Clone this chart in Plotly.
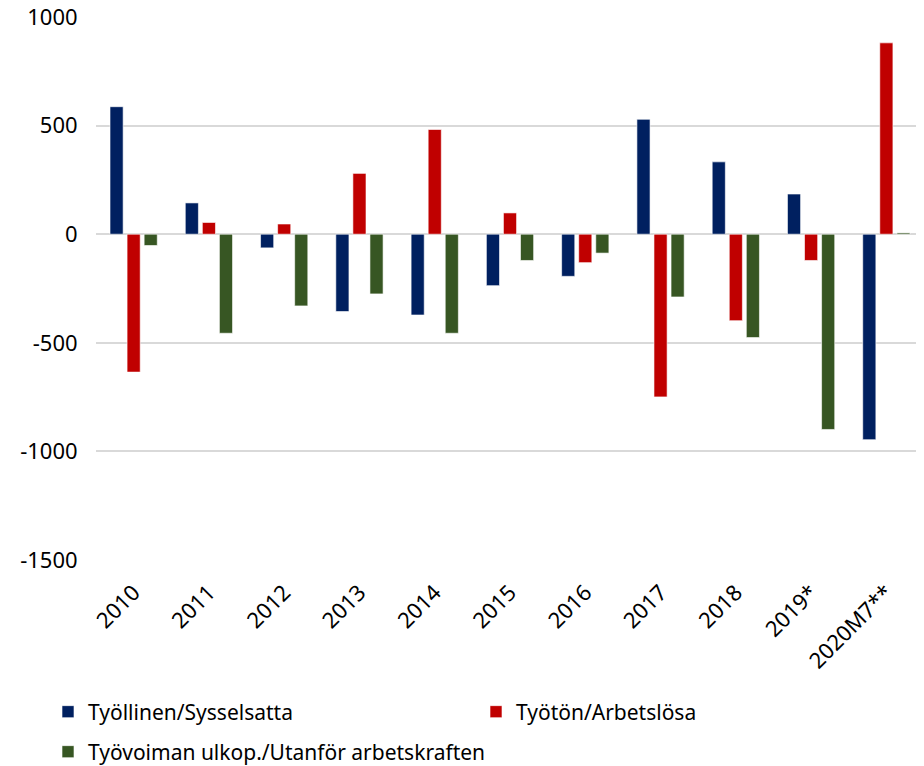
import plotly.graph_objects as go

categories = ["2010", "2011", "2012", "2013", "2014", "2015", "2016", "2017", "2018", "2019*", "2020M7**"]
tyollinen = [587, 144, -63, -356, -372, -237, -194, 529, 333, 185, -946]
tyoton = [-635, 54, 47, 280, 482, 98, -131, -749, -398, -121, 881]
ulkop = [-52, -456, -330, -275, -456, -121, -87, -289, -476, -899, 6]

y_ticks = [-1500, -1000, -500, 0, 500, 1000]
y_ticktext = ["-1500", "-1000", "-500", "0", "500", "1000"]

names = ["Työllinen/Sysselsatta", "Työtön/Arbetslösa", "Työvoiman ulkop./Utanför arbetskraften"]
colors = ["#002060", "#C00000", "#375623"]
legend_ids = ["legend", "legend2", "legend3"]

# The page body adds an 8px offset; figure is sized to fit the 924x766 window.
W, H = 916, 758

fig = go.Figure()
for name, vals, col, lg in zip(names, [tyollinen, tyoton, ulkop], colors, legend_ids):
    fig.add_trace(go.Bar(
        x=categories, y=vals, name=name, legend=lg,
        marker=dict(color=col, line=dict(color="rgba(255,255,255,0.6)", width=1)),
    ))

font_family = "Noto Sans"
leg_common = dict(
    orientation="h", xref="container", yref="container",
    xanchor="left", yanchor="middle",
    font=dict(size=21, family=font_family, color="#000000"),
    itemwidth=30, bgcolor="rgba(0,0,0,0)",
)
fig.update_layout(
    width=W, height=H,
    margin=dict(l=88, r=0, t=9, b=206, autoexpand=False),
    plot_bgcolor="white", paper_bgcolor="white",
    barmode="group", bargap=0.32, bargroupgap=0.23,
    font=dict(family=font_family, color="#000000", size=18),
    showlegend=True,
    legend=dict(x=40 / W, y=1 - 704 / H, **leg_common),
    legend2=dict(x=468 / W, y=1 - 704 / H, **leg_common),
    legend3=dict(x=40 / W, y=1 - 744 / H, **leg_common),
    xaxis=dict(
        tickangle=-45, showgrid=False, showline=False, zeroline=False,
        tickfont=dict(size=22), ticks="outside", ticklen=10, tickcolor="rgba(0,0,0,0)",
        automargin=False, ticklabeloverflow="allow",
    ),
    yaxis=dict(
        range=[-1500, 1000], tickvals=y_ticks, ticktext=y_ticktext,
        showgrid=True, gridcolor="#D9D9D9", gridwidth=1.5,
        zeroline=True, zerolinecolor="#D9D9D9", zerolinewidth=1.5,
        tickfont=dict(size=22), ticks="outside", ticklen=13, tickcolor="rgba(0,0,0,0)",
        showline=False, automargin=False, ticklabeloverflow="allow",
    ),
)
fig.write_html("out.html")
